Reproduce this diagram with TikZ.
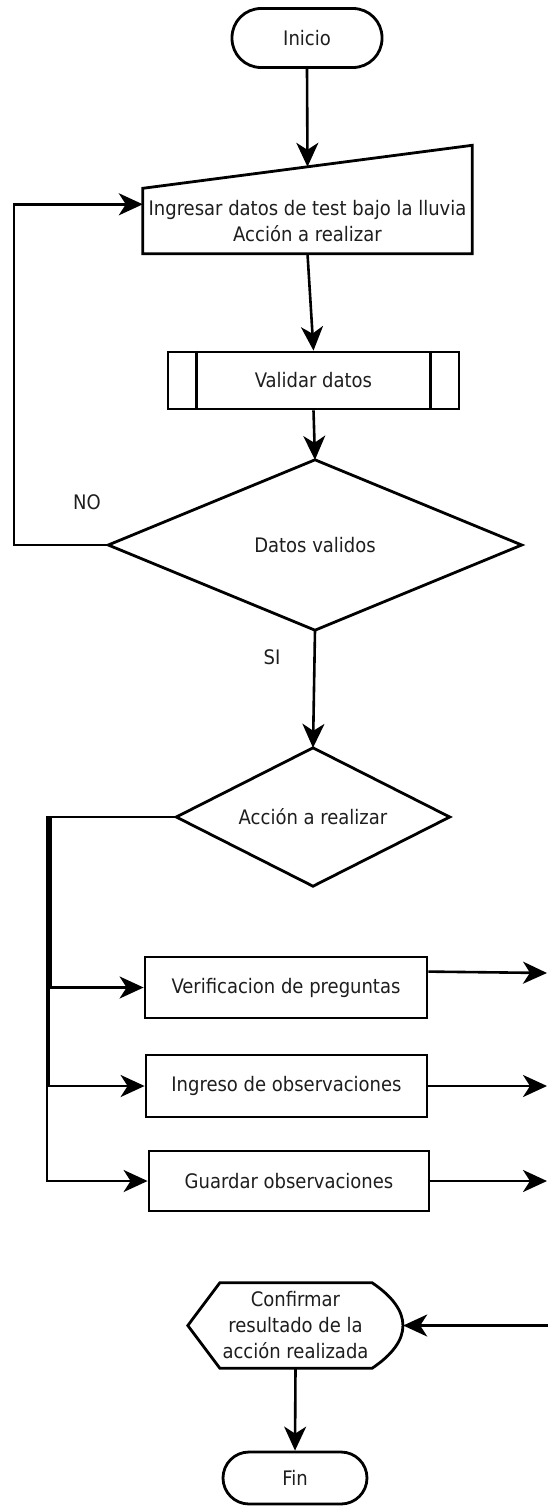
\documentclass[tikz,border=0pt]{standalone}
\usepackage{fontspec}
\setmainfont{DejaVu Sans Condensed}
\usetikzlibrary{arrows.meta,calc}
\definecolor{txt}{HTML}{1E1E1E}
\begin{document}
\begin{tikzpicture}[x=1pt,y=-1pt,
  every node/.style={font=\fontsize{20}{26}\selectfont, text=txt},
  box/.style={draw, line width=2.8pt, inner sep=0pt, align=center},
  ghost/.style={inner sep=0pt, align=center},
  outline/.style={draw, line width=2.8pt, line join=miter},
  edge/.style={line width=2.6pt, -{Stealth[length=24pt,width=22pt,inset=7pt]}}
]
\fill[white] (0,0) rectangle (548,1507);
\useasboundingbox (0,0) rectangle (548,1507);

% terminals
\node[box, rounded corners=29pt, minimum width=150pt, minimum height=59pt] (inicio) at (307,38) {Inicio};
\node[box, rounded corners=26pt, minimum width=144pt, minimum height=52pt] (fin) at (295,1478) {Fin};

% manual input with slanted top
\node[ghost, minimum width=329pt, minimum height=65pt] (entrada) at (307.5,221) {Ingresar datos de test bajo la lluvia\\Acción a realizar};
\draw[outline] (entrada.south west) -- (entrada.south east) -- ($(entrada.north east)+(0,-43)$) -- (entrada.north west) -- cycle;
\coordinate (entradaTop) at ($(entrada.north west)!0.5!(entrada.north east)+(0,-21.5)$);
\coordinate (entradaIn) at ($(entrada.north west)+(0,16)$);

% predefined process
\node[box, minimum width=291pt, minimum height=57pt] (validar) at (313.5,380.5) {Validar datos};
\draw[line width=2.8pt] ($(validar.north west)+(30,0)$) -- ($(validar.south west)+(30,0)$)
                        ($(validar.north east)+(-30,0)$) -- ($(validar.south east)+(-30,0)$);

% decisions
\node[ghost, minimum width=413pt, minimum height=170pt] (valido) at (315,545) {Datos validos};
\draw[outline] (valido.north) -- (valido.east) -- (valido.south) -- (valido.west) -- cycle;
\node[ghost, minimum width=273pt, minimum height=138pt] (accion) at (313,817) {Acción a realizar};
\draw[outline] (accion.north) -- (accion.east) -- (accion.south) -- (accion.west) -- cycle;

% actions
\node[box, minimum width=282pt, minimum height=61pt] (verif) at (286,987.5) {Verificacion de preguntas};
\node[box, minimum width=281pt, minimum height=62pt] (ingreso) at (286.5,1086) {Ingreso de observaciones};
\node[box, minimum width=280pt, minimum height=60pt] (guardar) at (289,1181) {Guardar observaciones};

% display
\node[ghost, minimum width=215pt, minimum height=85pt] (confirmar) at (295.5,1325.5) {Confirmar\\resultado de la\\acción realizada};
\draw[outline] (confirmar.west) -- ($(confirmar.north west)+(32,0)$) -- ($(confirmar.north east)+(-31,0)$)
  .. controls ($(confirmar.east)+(10,-15)$) and ($(confirmar.east)+(10,15)$) .. ($(confirmar.south east)+(-31,0)$)
  -- ($(confirmar.south west)+(32,0)$) -- cycle;

% labels
\node (no) at (87,502) {NO};
\node (si) at (272,657) {SI};

% connectors
\draw[edge] (inicio.south) -- (entradaTop);
\draw[edge] (entrada.south) -- (validar.north);
\draw[edge] (validar.south) -- (valido.north);
\draw[edge] (valido.west) -- (14,545) |- (entradaIn);
\draw[edge] (valido.south) -- (accion.north);

% three branches share the left bus, slightly offset
\draw[edge] (accion.west) -- (50.5,817) |- (verif.west);
\draw[edge] (accion.west) -- (48.5,817) |- (ingreso.west);
\draw[edge] (accion.west) -- (47,817) |- (guardar.west);

\coordinate (verifOut) at ($(verif.north east)+(0,16)$);
\coordinate (salidaA) at (547,973);
\coordinate (salidaB) at (547,1086);
\coordinate (salidaC) at (547,1181);
\coordinate (retorno) at (550,1325.5);
\draw[edge] (verifOut) -- (salidaA);
\draw[edge] (ingreso.east) -- (salidaB);
\draw[edge] (guardar.east) -- (salidaC);
\draw[edge] (retorno) -- (confirmar.east);
\draw[edge] (confirmar.south) -- (fin.north);
\end{tikzpicture}
\end{document}
